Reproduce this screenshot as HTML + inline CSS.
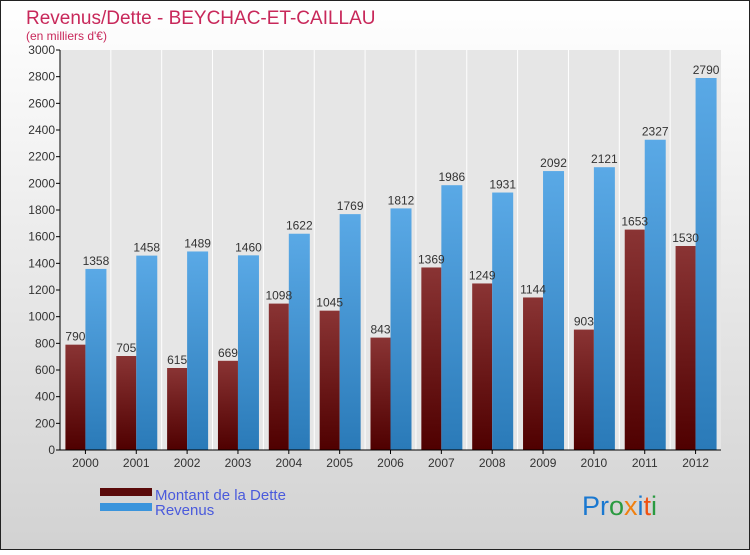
<!DOCTYPE html>
<html><head><meta charset="utf-8"><style>
body{margin:0;width:750px;height:550px;overflow:hidden;font-family:"Liberation Sans",sans-serif}
</style></head><body>
<svg id="c" width="750" height="550" xmlns="http://www.w3.org/2000/svg" font-family="Liberation Sans, sans-serif">
<defs>
<linearGradient id="bg" x1="0" y1="0" x2="0" y2="1"><stop offset="0" stop-color="#ffffff"/><stop offset="1" stop-color="#d2d2d2"/></linearGradient>
<linearGradient id="gd" x1="0" y1="0" x2="0" y2="1"><stop offset="0" stop-color="#8a3434"/><stop offset="1" stop-color="#4f0000"/></linearGradient>
<linearGradient id="gr" x1="0" y1="0" x2="0" y2="1"><stop offset="0" stop-color="#5aa9e6"/><stop offset="1" stop-color="#2a7ab8"/></linearGradient>
</defs>
<rect x="0.5" y="0.5" width="749" height="549" fill="url(#bg)" stroke="#222"/>
<rect x="60" y="50" width="661" height="400" fill="#e6e6e6"/>
<text x="26" y="24" font-size="19" fill="#c8285a">Revenus/Dette - BEYCHAC-ET-CAILLAU</text>
<text x="26" y="40" font-size="12" fill="#c8285a">(en milliers d'€)</text>
<g id="grid"></g><g id="bars"></g><g id="axes"></g>
<rect x="100" y="488" width="52" height="8" fill="#5a0a0a"/>
<text x="155" y="500" font-size="15" fill="#4a5adc">Montant de la Dette</text>
<rect x="100" y="503" width="52" height="8" fill="#3a94dc"/>
<text x="155" y="515" font-size="15" fill="#4a5adc">Revenus</text>
<text x="582" y="515" font-size="27"><tspan fill="#1a78d0">Pr</tspan><tspan fill="#2a9a40">o</tspan><tspan fill="#f08010">x</tspan><tspan fill="#1a78d0">i</tspan><tspan fill="#f05010">t</tspan><tspan fill="#2a9a40">i</tspan></text>
</svg>
<script>
const years=["2000","2001","2002","2003","2004","2005","2006","2007","2008","2009","2010","2011","2012"];
const dette=[790,705,615,669,1098,1045,843,1369,1249,1144,903,1653,1530];
const revenus=[1358,1458,1489,1460,1622,1769,1812,1986,1931,2092,2121,2327,2790];
const ticks=[0,200,400,600,800,1000,1200,1400,1600,1800,2000,2200,2400,2600,2800,3000];
const NS="http://www.w3.org/2000/svg";
const x0=60,x1=721,y0=450,y1=50,maxV=3000;
const band=(x1-x0)/years.length;
const X=i=>x0+band*(i+0.5);
const Y=v=>y0-(y0-y1)*v/maxV;
function mk(t,a,p){const e=document.createElementNS(NS,t);for(const k in a)e.setAttribute(k,a[k]);document.getElementById(p).appendChild(e);return e;}
for(let i=1;i<years.length;i++){const l=mk('line',{x1:x0+band*i,x2:x0+band*i,y1:y1,y2:y0,stroke:'#fff','stroke-width':1},'grid');

}
years.forEach((yr,i)=>{
const c=X(i);
const d=mk('rect',{x:c-20,y:Y(dette[i]),width:20,height:y0-Y(dette[i]),fill:'url(#gd)'},'bars');


const r=mk('rect',{x:c,y:Y(revenus[i]),width:21,height:y0-Y(revenus[i]),fill:'url(#gr)'},'bars');


const t1=mk('text',{x:c-10,y:Y(dette[i])-4,'font-size':12,fill:'#333','text-anchor':'middle'},'bars');t1.textContent=dette[i];


const t2=mk('text',{x:c+10.5,y:Y(revenus[i])-4,'font-size':12,fill:'#333','text-anchor':'middle'},'bars');t2.textContent=revenus[i];


const tk=mk('line',{x1:c,x2:c,y1:y0,y2:y0+4,stroke:'#000'},'axes');


const xl=mk('text',{x:c,y:y0+17,'font-size':12,fill:'#333','text-anchor':'middle'},'axes');xl.textContent=yr;


});
ticks.forEach(v=>{
const tk=mk('line',{x1:x0-4,x2:x0,y1:Y(v),y2:Y(v),stroke:'#000'},'axes');


const tl=mk('text',{x:x0-5,y:Y(v)+4,'font-size':12,fill:'#333','text-anchor':'end'},'axes');tl.textContent=v;


});
const ya=mk('line',{x1:x0,x2:x0,y1:y1,y2:y0,stroke:'#000'},'axes');


const xa=mk('line',{x1:x0,x2:x1,y1:y0,y2:y0,stroke:'#000'},'axes');


</script>
</body></html>
